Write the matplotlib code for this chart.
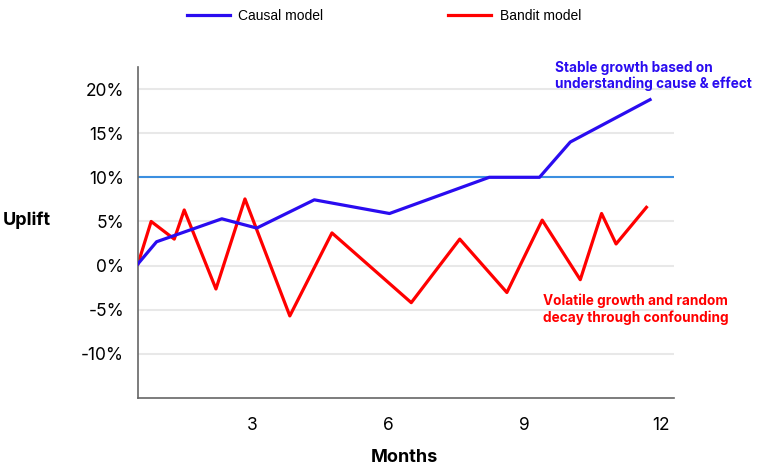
import matplotlib.pyplot as plt
from matplotlib.ticker import FuncFormatter

# Months and uplift (%)
causal_months = [0.47, 0.88, 2.32, 3.09, 4.36, 6.02, 8.22, 9.33, 10.01, 11.77]
causal_uplift = [0.2, 2.7, 5.3, 4.25, 7.45, 5.9, 10.0, 10.0, 14.0, 18.8]

bandit_months = [0.47, 0.76, 1.27, 1.49, 2.19, 2.83, 3.82, 4.75, 6.50,
                 7.57, 8.61, 9.39, 10.23, 10.70, 11.02, 11.69]
bandit_uplift = [0.2, 5.0, 3.0, 6.3, -2.65, 7.55, -5.7, 3.7, -4.2,
                 3.0, -3.05, 5.15, -1.6, 5.9, 2.45, 6.6]

target = 10
y_ticks = [-10, -5, 0, 5, 10, 15, 20]
x_ticks = [3, 6, 9, 12]

BLUE = '#2a0cf0'
RED = '#ff0000'

fig = plt.figure(figsize=(7.68, 4.69), dpi=100)
ax = fig.add_axes([0.1797, 0.1514, 0.698, 0.7058])

for y in y_ticks:
    ax.axhline(y, color='#e8e8e8', linewidth=1.5, zorder=0)
ax.axhline(target, color='#3b8fe0', linewidth=1.5, zorder=1)

ax.plot(causal_months, causal_uplift, color=BLUE, linewidth=2.3,
        label='Causal model', zorder=3)
ax.plot(bandit_months, bandit_uplift, color=RED, linewidth=2.3,
        label='Bandit model', zorder=2)

ax.set_xlim(0.47, 12.3)
ax.set_ylim(-15, 22.5)
ax.set_xticks(x_ticks)
ax.set_yticks(y_ticks)
ax.yaxis.set_major_formatter(FuncFormatter(lambda v, p: f'{v:.0f}%'))
ax.tick_params(length=0, labelsize=12.5, pad=10)
ax.tick_params(axis='x', pad=14)
for lab in ax.get_xticklabels() + ax.get_yticklabels():
    lab.set_family('Inter')

for s in ['top', 'right']:
    ax.spines[s].set_visible(False)
for s in ['left', 'bottom']:
    ax.spines[s].set_color('#666666')
    ax.spines[s].set_linewidth(1.2)

fig.text(0.004, 0.531, 'Uplift', fontsize=13, fontweight='bold',
         family='Inter', va='center', ha='left')
fig.text(0.526, 0.024, 'Months', fontsize=13, fontweight='bold',
         family='Inter', va='center', ha='center')

fig.text(0.7227, 0.838, 'Stable growth based on\nunderstanding cause & effect',
         fontsize=9.8, fontweight='bold', family='Inter', color=BLUE,
         va='center', ha='left', linespacing=1.2)
fig.text(0.7070, 0.340, 'Volatile growth and random\ndecay through confounding',
         fontsize=9.8, fontweight='bold', family='Inter', color=RED,
         va='center', ha='left', linespacing=1.2)

leg = fig.legend(loc='center left', bbox_to_anchor=(0.227, 0.966), ncol=2,
                 frameon=False, handlelength=3.1, handletextpad=0.6,
                 columnspacing=9.0, prop={'family': 'Liberation Sans', 'size': 10})

fig.savefig('out.png', dpi=100)
